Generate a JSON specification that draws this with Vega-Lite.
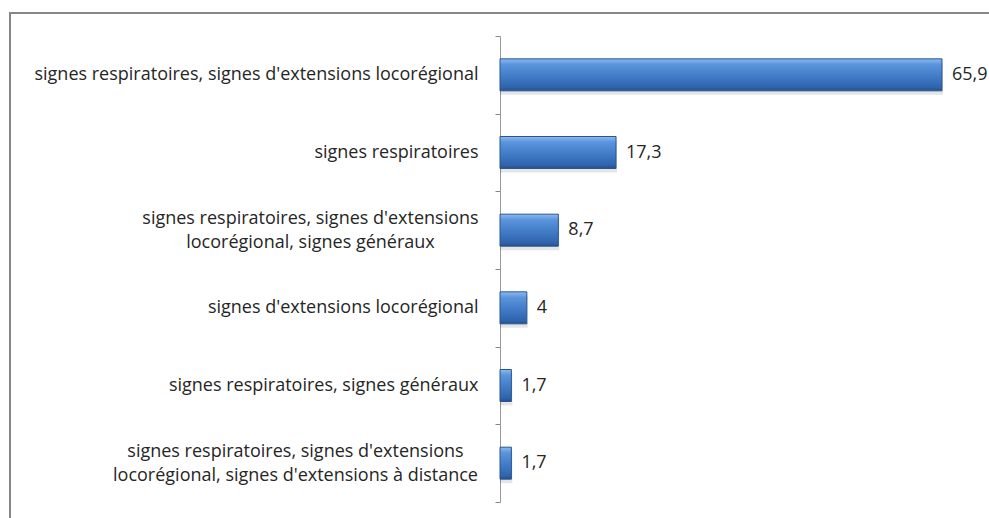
{
  "$schema": "https://vega.github.io/schema/vega-lite/v6.json",
  "autosize": {"type": "none"},
  "padding": {"left": 10, "top": 13, "right": 0, "bottom": 0},
  "width": 981,
  "height": 507,
  "background": "#ffffff",
  "config": {
    "view": {"stroke": "#878787", "strokeWidth": 2},
    "font": "Open Sans",
    "axis": {"ticks": true}
  },
  "data": {
    "values": [
      {"cat": "signes respiratoires, signes d'extensions locorégional", "value": 65.9, "label": "65,9"},
      {"cat": "signes respiratoires", "value": 17.3, "label": "17,3"},
      {"cat": "signes respiratoires, signes d'extensions\nlocorégional, signes généraux", "value": 8.7, "label": "8,7"},
      {"cat": "signes d'extensions locorégional", "value": 4, "label": "4"},
      {"cat": "signes respiratoires, signes généraux", "value": 1.7, "label": "1,7"},
      {"cat": "signes respiratoires, signes d'extensions\nlocorégional, signes d'extensions à distance", "value": 1.7, "label": "1,7"}
    ]
  },
  "encoding": {
    "y": {
      "field": "cat",
      "type": "nominal",
      "sort": null,
      "scale": {"range": [23, 489], "paddingInner": 0, "paddingOuter": 0},
      "axis": {
        "title": null,
        "offset": -490,
        "ticks": true,
        "tickBand": "extent",
        "tickSize": 5,
        "tickWidth": 1,
        "tickOpacity": 1,
        "tickColor": "#888888",
        "domainColor": "#999999",
        "labelFont": "Open Sans",
        "labelFontSize": 18,
        "labelColor": "#262626",
        "labelLimit": 0,
        "labelLineHeight": 24,
        "labelOffset": {
          "condition": {"test": "indexof(datum.label, '\\n') >= 0", "value": -12},
          "value": 0
        },
        "labelPadding": {
          "condition": [
            {"test": "indexof(datum.label, 'distance') >= 0", "value": 200},
            {"test": "indexof(datum.label, '\\n') >= 0", "value": 185}
          ],
          "value": 17
        },
        "labelAlign": {
          "condition": {"test": "indexof(datum.label, '\\n') >= 0", "value": "center"},
          "value": "right"
        },
        "labelExpr": "split(datum.label, '\\n')"
      }
    },
    "x": {
      "field": "value",
      "type": "quantitative",
      "scale": {"domain": [0, 70], "range": [490, 959.5], "nice": false, "zero": false},
      "axis": null
    }
  },
  "layer": [
    {
      "mark": {
        "type": "bar",
        "height": {"band": 0.412},
        "color": "#000000",
        "opacity": 0.1,
        "xOffset": 1,
        "yOffset": 4
      },
      "encoding": {"x2": {"datum": 0}}
    },
    {
      "mark": {
        "type": "bar",
        "height": {"band": 0.412},
        "stroke": "#2a5590",
        "strokeWidth": 1,
        "color": {
          "gradient": "linear", "x1": 0, "y1": 0, "x2": 0, "y2": 1,
          "stops": [
            {"offset": 0, "color": "#8dbaf0"},
            {"offset": 0.18, "color": "#5a94dc"},
            {"offset": 0.6, "color": "#3e78c4"},
            {"offset": 0.9, "color": "#2f63aa"},
            {"offset": 1, "color": "#254f8a"}
          ]
        }
      },
      "encoding": {"x2": {"datum": 0}}
    },
    {
      "mark": {"type": "text", "align": "left", "baseline": "middle", "dx": 10, "font": "Open Sans", "fontSize": 18, "color": "#262626"},
      "encoding": {"text": {"field": "label"}}
    }
  ]
}
